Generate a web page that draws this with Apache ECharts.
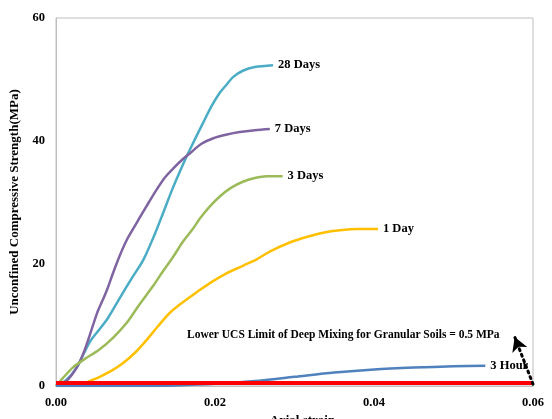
<!DOCTYPE html>
<html><head><meta charset="utf-8">
<script src="https://cdn.jsdelivr.net/npm/echarts@6/dist/echarts.min.js"></script>
<style>html,body{margin:0;padding:0;background:#fff}#c{width:552px;height:419px}</style>
</head><body><div id="c"></div>
<script>
var xTicks = [0, 0.02, 0.04, 0.06];
var yTicks = [0, 20, 40, 60];
var seriesNames = ['28 Days', '7 Days', '3 Days', '1 Day', '3 Hour'];
var days28 = [[0,0],[0.0013,1.0],[0.0026,3.0],[0.0035,5.3],[0.0043,7.3],[0.0055,9.3],[0.0065,11.0],[0.0080,14.3],[0.0095,17.5],[0.0110,20.6],[0.0125,25.0],[0.0135,28.3],[0.0147,32.3],[0.0160,36.2],[0.0172,39.5],[0.0185,42.9],[0.0196,45.7],[0.0206,47.8],[0.0215,49.2],[0.0223,50.4],[0.0235,51.4],[0.0250,52.0],[0.0273,52.3]];
var days7 = [[0,0],[0.0013,0.8],[0.0026,3.0],[0.0035,5.5],[0.0043,8.5],[0.0052,12.0],[0.0058,13.8],[0.0064,15.6],[0.0072,18.5],[0.0080,21.2],[0.0089,23.8],[0.0097,25.6],[0.0106,27.6],[0.0117,30.0],[0.0127,32.1],[0.0137,34.0],[0.0147,35.4],[0.0158,36.8],[0.0169,38.0],[0.0183,39.5],[0.0198,40.4],[0.0215,41.0],[0.0231,41.4],[0.0250,41.7],[0.0269,41.9]];
var days3 = [[0,0],[0.0008,1.2],[0.0021,3.0],[0.0035,4.3],[0.0055,6.0],[0.0072,7.9],[0.0089,10.3],[0.0105,13.3],[0.0122,16.3],[0.0135,18.8],[0.0147,21.0],[0.0160,23.6],[0.0172,25.6],[0.0181,27.3],[0.0193,29.2],[0.0206,30.9],[0.0220,32.3],[0.0235,33.3],[0.0250,33.9],[0.0265,34.2],[0.0285,34.2]];
var day1 = [[0,0],[0.0030,0.2],[0.0042,0.8],[0.0055,1.5],[0.0070,2.5],[0.0084,3.7],[0.0100,5.5],[0.0114,7.5],[0.0128,9.7],[0.0143,11.9],[0.0160,13.7],[0.0177,15.3],[0.0195,16.9],[0.0215,18.4],[0.0235,19.6],[0.0253,20.7],[0.0270,22.0],[0.0294,23.4],[0.0315,24.3],[0.0336,25.0],[0.0357,25.4],[0.0380,25.6],[0.0405,25.6]];
var hour3 = [[0,0],[0.010,0],[0.015,0.1],[0.020,0.35],[0.025,0.8],[0.030,1.5],[0.035,2.2],[0.040,2.7],[0.045,3.0],[0.050,3.2],[0.054,3.3]];
var limitLine = [[0,0.5],[0.06,0.5]];
var arrowFrom = [0.06, 0.3];
var arrowTo = [0.0577, 8.0];
var annotation = 'Lower UCS Limit of Deep Mixing for Granular Soils = 0.5 MPa';

var serif = '"Liberation Serif","Times New Roman",serif';
var colors = ['#4BACC6', '#8064A2', '#9BBB59', '#FFC000', '#4F81BD'];
var datasets = [days28, days7, days3, day1, hour3];

var series = datasets.map(function (d, i) {
  return {
    name: seriesNames[i], type: 'line', data: d, smooth: 0.3,
    showSymbol: false, z: 3,
    lineStyle: { color: colors[i], width: 2.5 },
    endLabel: { show: true, formatter: '{a}', distance: 5, color: '#000',
      fontFamily: serif, fontWeight: 'bold', fontSize: 12.5 }
  };
});
series.push({
  name: 'limit', type: 'line', data: limitLine, showSymbol: false, z: 4,
  lineStyle: { color: '#FF0000', width: 4 },
  markLine: {
    silent: true, symbol: ['none', 'arrow'], symbolSize: [12, 14],
    label: { show: false },
    lineStyle: { color: '#000', width: 3, type: [2, 4], cap: 'round' },
    data: [[{ coord: arrowFrom }, { coord: arrowTo }]]
  }
});

var chart = echarts.init(document.getElementById('c'));
chart.setOption({
  animation: false,
  grid: { left: 56, right: 19, top: 18, bottom: 33, show: true, borderColor: '#BFBFBF', borderWidth: 1,
    containLabel: false, outerBoundsMode: 'none' },
  xAxis: {
    type: 'value', min: xTicks[0], max: xTicks[xTicks.length - 1], interval: 0.02,
    name: 'Axial strain', nameLocation: 'middle', nameGap: 25,
    nameTextStyle: { fontFamily: serif, fontWeight: 'bold', fontSize: 13, color: '#000', padding: [0, 0, 0, 16] },
    axisLine: { lineStyle: { color: '#BFBFBF' } }, axisTick: { show: false }, splitLine: { show: false },
    axisLabel: { margin: 10, fontFamily: serif, fontWeight: 'bold', fontSize: 12.5, color: '#000',
      formatter: function (v) { return v.toFixed(2); } }
  },
  yAxis: {
    type: 'value', min: yTicks[0], max: yTicks[yTicks.length - 1], interval: 20,
    name: 'Unconfined Compressive Strength(MPa)', nameLocation: 'middle', nameGap: 27,
    nameTextStyle: { fontFamily: serif, fontWeight: 'bold', fontSize: 13, color: '#000' },
    axisLine: { show: true, lineStyle: { color: '#BFBFBF' } }, axisTick: { show: false }, splitLine: { show: false },
    axisLabel: { margin: 11, fontFamily: serif, fontWeight: 'bold', fontSize: 12.5, color: '#000' }
  },
  graphic: [{
    type: 'text', left: 187, top: 329,
    style: { text: annotation, fill: '#000', font: 'bold 11.5px ' + serif }
  }],
  series: series
});
</script></body></html>
